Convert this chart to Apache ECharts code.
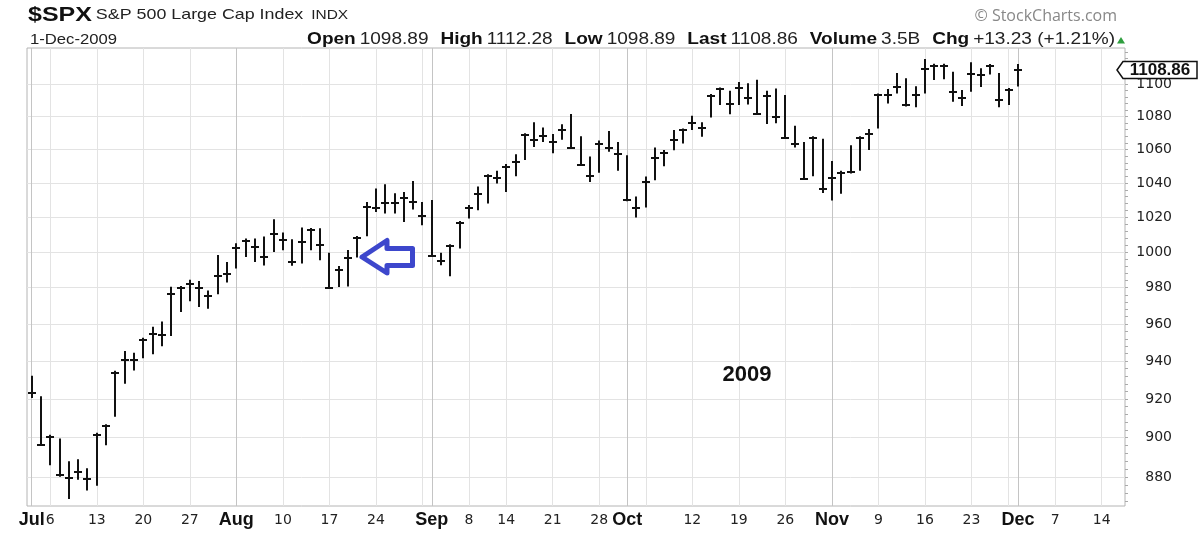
<!DOCTYPE html>
<html>
<head>
<meta charset="utf-8">
<title>$SPX bar chart 2009</title>
<script src="https://cdn.jsdelivr.net/npm/echarts@6/dist/echarts.min.js"></script>
<style>
  html, body { margin: 0; padding: 0; background: #fff; }
  #chart { width: 1200px; height: 535px; }
</style>
</head>
<body>
<div id="chart"></div>
<script>
// daily bars 1-Jul-2009 .. 1-Dec-2009 (high / low / close)
const highs = [
  932, 921.2, 901.3, 899.4, 887.8, 888.8, 884.3,
  902.3, 906.7, 934.6, 945.1, 944.2,
  952.3, 958.2, 961.1, 980.3, 980.6,
  984.1, 983.5, 978.2, 998.1, 994.1,
  1004.7, 1007.4, 1007.4, 1008.6, 1018.5,
  1010.9, 1007, 1013.8, 1013.5, 1013.3,
  999.4, 991.9, 1000.9, 1008.9, 1028.6,
  1036.4, 1039, 1033.7, 1034.4, 1040.9,
  1028.6, 1029.7, 999.4, 1004.2, 1017.5,
  1026.8, 1037.6, 1044.9, 1046.9,
  1050.9, 1056.8, 1069.5, 1076.1, 1073,
  1069, 1075, 1081.2, 1067.6, 1055.4,
  1065, 1070.9, 1064.2, 1056.2, 1031.7,
  1043.5, 1060.8, 1059.4, 1071.5, 1072.3,
  1080.2, 1076.1, 1093.6, 1097.6, 1095.5,
  1101.1, 1100.3, 1102.4, 1095.5, 1097,
  1093, 1074, 1064.2, 1067.6, 1066.2,
  1052.8, 1046.9, 1062.2, 1067.6, 1072,
  1093.9, 1096.6, 1106.6, 1103.3, 1098.4,
  1115.5, 1112.5, 1112.5, 1107.4, 1096.1,
  1113.4, 1109.6, 1112.3, 1106.6,
  1097.3, 1112.3
]
const lows = [
  920.8, 896.4, 886.3, 880.5, 869.5, 879, 873.7,
  876, 896.4, 911, 928.2, 935.3,
  941.8, 943.9, 948.2, 953.7, 966.8,
  972.7, 969.6, 968.6, 976.6, 983.1,
  991, 997.5, 994.7, 992.7, 1000.4,
  1001.3, 992.6, 993.8, 1001.3, 995.6,
  979.5, 980.6, 981, 997.2, 1009.3,
  1023.3, 1022.4, 1022.4, 1017.5, 1024.7,
  1015.6, 997.8, 992.8, 986.6, 1002.3,
  1019.5, 1024.3, 1028.2, 1040,
  1035, 1044.3, 1054, 1061.8, 1064.8,
  1058, 1066.2, 1060.6, 1050.4, 1040.9,
  1046.3, 1058.9, 1047.5, 1029.6, 1020.1,
  1025.9, 1041.9, 1050.2, 1059.8, 1063.8,
  1072, 1068, 1079.7, 1087.3, 1081.6,
  1087.3, 1087.7, 1081.2, 1075.7, 1076.1,
  1066.9, 1061.5, 1042.4, 1044.3, 1034.4,
  1030, 1034, 1045.9, 1047.5, 1059.9,
  1073, 1088.3, 1094.5, 1086.4, 1086,
  1094.5, 1102.9, 1103.3, 1089.3, 1086.8,
  1095.5, 1098.6, 1106.3, 1086,
  1087.3, 1098.9
]
const closes = [
  923.3, 896.4, 900.2, 881.0, 879.6, 882.7, 879.1,
  901.5, 905.8, 933.5, 940.7, 940.4,
  951.3, 954.6, 954.1, 976.3, 979.8,
  982.2, 979.6, 975.2, 986.8, 987.5,
  1002.6, 1006.5, 1002.7, 997.1, 1010.5,
  1007.1, 994.4, 1005.8, 1012.9, 1004.1,
  979.7, 989.7, 996.5, 1008.2, 1026.1,
  1025.6, 1028.0, 1028.1, 1031.0, 1028.9,
  1020.6, 998.0, 994.8, 1003.2, 1016.8,
  1025.4, 1033.4, 1044.4, 1042.7,
  1049.3, 1052.6, 1069.0, 1065.5, 1068.3,
  1064.7, 1071.7, 1060.9, 1050.8, 1044.4,
  1063.5, 1060.6, 1057.1, 1029.9, 1025.2,
  1040.5, 1054.7, 1057.6, 1065.5, 1071.7,
  1076.2, 1073.2, 1092.8, 1096.9, 1087.7,
  1097.9, 1091.1, 1081.4, 1092.9, 1079.6,
  1067.0, 1063.4, 1042.6, 1066.8, 1036.2,
  1042.9, 1046.2, 1046.5, 1067.0, 1069.3,
  1093.4, 1093.5, 1098.5, 1087.2, 1093.5,
  1109.8, 1111.6, 1111.6, 1094.9, 1091.4,
  1106.2, 1105.7, 1111.5, 1090.0,
  1096.6, 1108.9
]

// axis text
const firstDay = '2009-07-01'
const lastDay = '2009-12-16'
const holidays = ['2009-07-03', '2009-09-07', '2009-11-26']
const monthTicks = ['2009-07-01', '2009-08-03', '2009-09-01', '2009-10-01', '2009-11-02', '2009-12-01']
const monthNames = ['Jul', 'Aug', 'Sep', 'Oct', 'Nov', 'Dec']
const dayTicks = ['2009-07-06', '2009-07-13', '2009-07-20', '2009-07-27', '2009-08-10', '2009-08-17',
  '2009-08-24', '2009-09-08', '2009-09-14', '2009-09-21', '2009-09-28', '2009-10-12', '2009-10-19',
  '2009-10-26', '2009-11-09', '2009-11-16', '2009-11-23', '2009-12-07', '2009-12-14']
const priceTicks = [880, 900, 920, 940, 960, 980, 1000, 1020, 1040, 1060, 1080, 1100]
const priceMin = 865.8
const priceMax = 1122.8

// header
const symbol = '$SPX'
const indexName = 'S&P 500 Large Cap Index'
const barDate = '1-Dec-2009'
const quote = { open: '1098.89', high: '1112.28', low: '1098.89', last: 1108.86, volume: '3.5B', chg: '+13.23 (+1.21%)' }

const FONT = 'Liberation Sans, Arial, sans-serif'
const NUMFONT = 'DejaVu Sans, Verdana, sans-serif'
const STRETCH = 1.19 // header text in the original is drawn a little wide

// trading days (weekends and exchange holidays skipped)
let dates = []
for (let t = Date.parse(firstDay); t <= Date.parse(lastDay); t += 86400000) {
  let d = new Date(t)
  let s = d.toISOString().slice(0, 10)
  if (d.getUTCDay() === 0 || d.getUTCDay() === 6 || holidays.includes(s)) continue
  dates.push(s)
}
// first trading day of each week -> light grid line
let weekStarts = []
for (let i = 1; i < dates.length; i++) {
  if (new Date(dates[i]).getUTCDay() < new Date(dates[i - 1]).getUTCDay()) weekStarts.push(i)
}
let tickText = {}
monthTicks.forEach((d, k) => { tickText[dates.indexOf(d)] = '{m|' + monthNames[k] + '}' })
dayTicks.forEach(d => { tickText[dates.indexOf(d)] = '{d|' + Number(d.slice(8)) + '}' })

let minorTicks = []
for (let p = 868; p <= 1120; p += 4) minorTicks.push(Math.log10(p))

let bars = highs.map((h, i) => [i, Math.log10(h), Math.log10(lows[i]), Math.log10(closes[i])])

let chart = echarts.init(document.getElementById('chart'))
chart.setOption({
  animation: false,
  backgroundColor: '#fff',
  grid: {
    left: 27, right: 75, top: 48, bottom: 29,
    show: true, borderColor: '#b4b4b4', borderWidth: 1
  },
  xAxis: [
    {
      type: 'value',
      position: 'bottom',
      min: -0.5,
      max: dates.length - 0.5,
      axisLine: { show: false, onZero: false },
      axisTick: { show: false, customValues: weekStarts },
      axisLabel: {
        customValues: Object.keys(tickText).map(Number),
        formatter: v => tickText[Math.round(v)] || '',
        margin: 4,
        showMinLabel: true,
        showMaxLabel: true,
        rich: {
          m: { fontFamily: FONT, fontWeight: 'bold', fontSize: 18, color: '#111', lineHeight: 20 },
          d: { fontFamily: NUMFONT, fontSize: 14, color: '#222', lineHeight: 20 }
        }
      },
      // 每周第一个交易日的竖线
      splitLine: { show: true, lineStyle: { color: '#e3e3e3', width: 1 } }
    },
    {
      type: 'value',
      position: 'top',
      min: -0.5,
      max: dates.length - 0.5,
      axisLine: { show: false, onZero: false },
      axisTick: { show: false, customValues: monthTicks.map(d => dates.indexOf(d)) },
      axisLabel: { show: false },
      // 月份分隔线，颜色稍深
      splitLine: { show: true, lineStyle: { color: '#c4c4c4', width: 1 } }
    }
  ],
  yAxis: [
    {
      type: 'value',
      position: 'right',
      min: Math.log10(priceMin),
      max: Math.log10(priceMax),
      axisLine: { show: false, onZero: false },
      axisTick: { show: true, inside: false, customValues: minorTicks, length: 3, lineStyle: { color: '#aaa' } },
      axisLabel: {
        customValues: priceTicks.map(Math.log10),
        formatter: v => String(Math.round(Math.pow(10, v))),
        align: 'right',
        margin: 47,
        fontFamily: NUMFONT,
        fontSize: 14,
        color: '#222'
      },
      splitLine: { show: false }
    },
    {
      // only carries the horizontal grid lines
      type: 'value',
      position: 'left',
      min: Math.log10(priceMin),
      max: Math.log10(priceMax),
      axisLine: { show: false, onZero: false },
      axisTick: { show: false, length: 0, customValues: priceTicks.map(Math.log10) },
      axisLabel: { show: false },
      splitLine: { show: true, lineStyle: { color: '#e3e3e3', width: 1 } }
    }
  ],
  series: [
    {
      type: 'custom',
      xAxisIndex: 0,
      yAxisIndex: 0,
      data: bars,
      encode: { x: 0, y: [1, 2, 3] },
      silent: true,
      z: 5,
      renderItem: (params, api) => {
        let x = api.value(0)
        let hi = api.coord([x, api.value(1)])
        let lo = api.coord([x, api.value(2)])
        let cl = api.coord([x, api.value(3)])
        let px = Math.round(hi[0])
        let cy = Math.round(cl[1])
        return {
          type: 'group',
          children: [
            {
              type: 'line',
              shape: { x1: px, y1: hi[1] - 0.5, x2: px, y2: lo[1] + 0.5 },
              style: { stroke: '#111', lineWidth: 2 }
            },
            {
              type: 'line',
              shape: { x1: px - 4, y1: cy, x2: px + 4, y2: cy },
              style: { stroke: '#111', lineWidth: 2 }
            }
          ]
        }
      }
    }
  ]
})

// last price tag on the right axis
let tagY = chart.convertToPixel({ yAxisIndex: 0 }, Math.log10(quote.last))

chart.setOption({
  graphic: [
    {
      type: 'text', x: 28, y: 15, scaleX: STRETCH,
      style: {
        text: '{a|' + symbol + '} {b|' + indexName + '}  {c|INDX}',
        verticalAlign: 'middle',
        rich: {
          a: { fontFamily: FONT, fontWeight: 'bold', fontSize: 21, fill: '#111' },
          b: { fontFamily: FONT, fontSize: 15, fill: '#222' },
          c: { fontFamily: FONT, fontSize: 13, fill: '#222' }
        }
      }
    },
    {
      type: 'text', x: 30, y: 40, scaleX: STRETCH,
      style: { text: barDate, fontFamily: FONT, fontSize: 14, fill: '#222', verticalAlign: 'middle' }
    },
    {
      type: 'text', x: 1115, y: 40, scaleX: STRETCH,
      style: {
        text: '{l|Open} {v|' + quote.open + '}   {l|High} {v|' + quote.high + '}   {l|Low} {v|' + quote.low +
          '}   {l|Last} {v|' + quote.last + '}   {l|Volume} {v|' + quote.volume + '}   {l|Chg} {v|' + quote.chg + '}',
        align: 'right',
        verticalAlign: 'middle',
        rich: {
          l: { fontFamily: FONT, fontWeight: 'bold', fontSize: 16, fill: '#111' },
          v: { fontFamily: FONT, fontSize: 16, fill: '#222' }
        }
      }
    },
    {
      type: 'polygon',
      shape: { points: [[1117, 43.5], [1121, 37], [1125, 43.5]] },
      style: { fill: '#2e9e3e' }
    },
    {
      type: 'text', x: 1117, y: 16,
      style: { text: '© StockCharts.com', align: 'right', verticalAlign: 'middle', fontFamily: 'Open Sans, sans-serif', fontSize: 16, fill: '#888' }
    },
    {
      type: 'polygon', z: 100,
      shape: { points: [[1117, tagY], [1123, tagY - 8.5], [1197, tagY - 8.5], [1197, tagY + 8.5], [1123, tagY + 8.5]] },
      style: { fill: '#fff', stroke: '#111', lineWidth: 1.5 }
    },
    {
      type: 'text', z: 101, x: 1160, y: tagY,
      style: { text: quote.last.toFixed(2), align: 'center', verticalAlign: 'middle', fontFamily: FONT, fontWeight: 'bold', fontSize: 17, fill: '#111' }
    },
    {
      type: 'text', x: 747, y: 375,
      style: { text: '2009', align: 'center', verticalAlign: 'middle', fontFamily: FONT, fontWeight: 'bold', fontSize: 22, fill: '#111' }
    },
    {
      // 蓝色箭头
      type: 'polygon', z: 50,
      shape: { points: [[362, 257], [387, 240.5], [387, 248.5], [412.5, 248.5], [412.5, 265.5], [387, 265.5], [387, 273]] },
      style: { fill: '#fff', stroke: '#3d47cc', lineWidth: 5, lineJoin: 'round' }
    }
  ]
})
</script>
</body>
</html>
